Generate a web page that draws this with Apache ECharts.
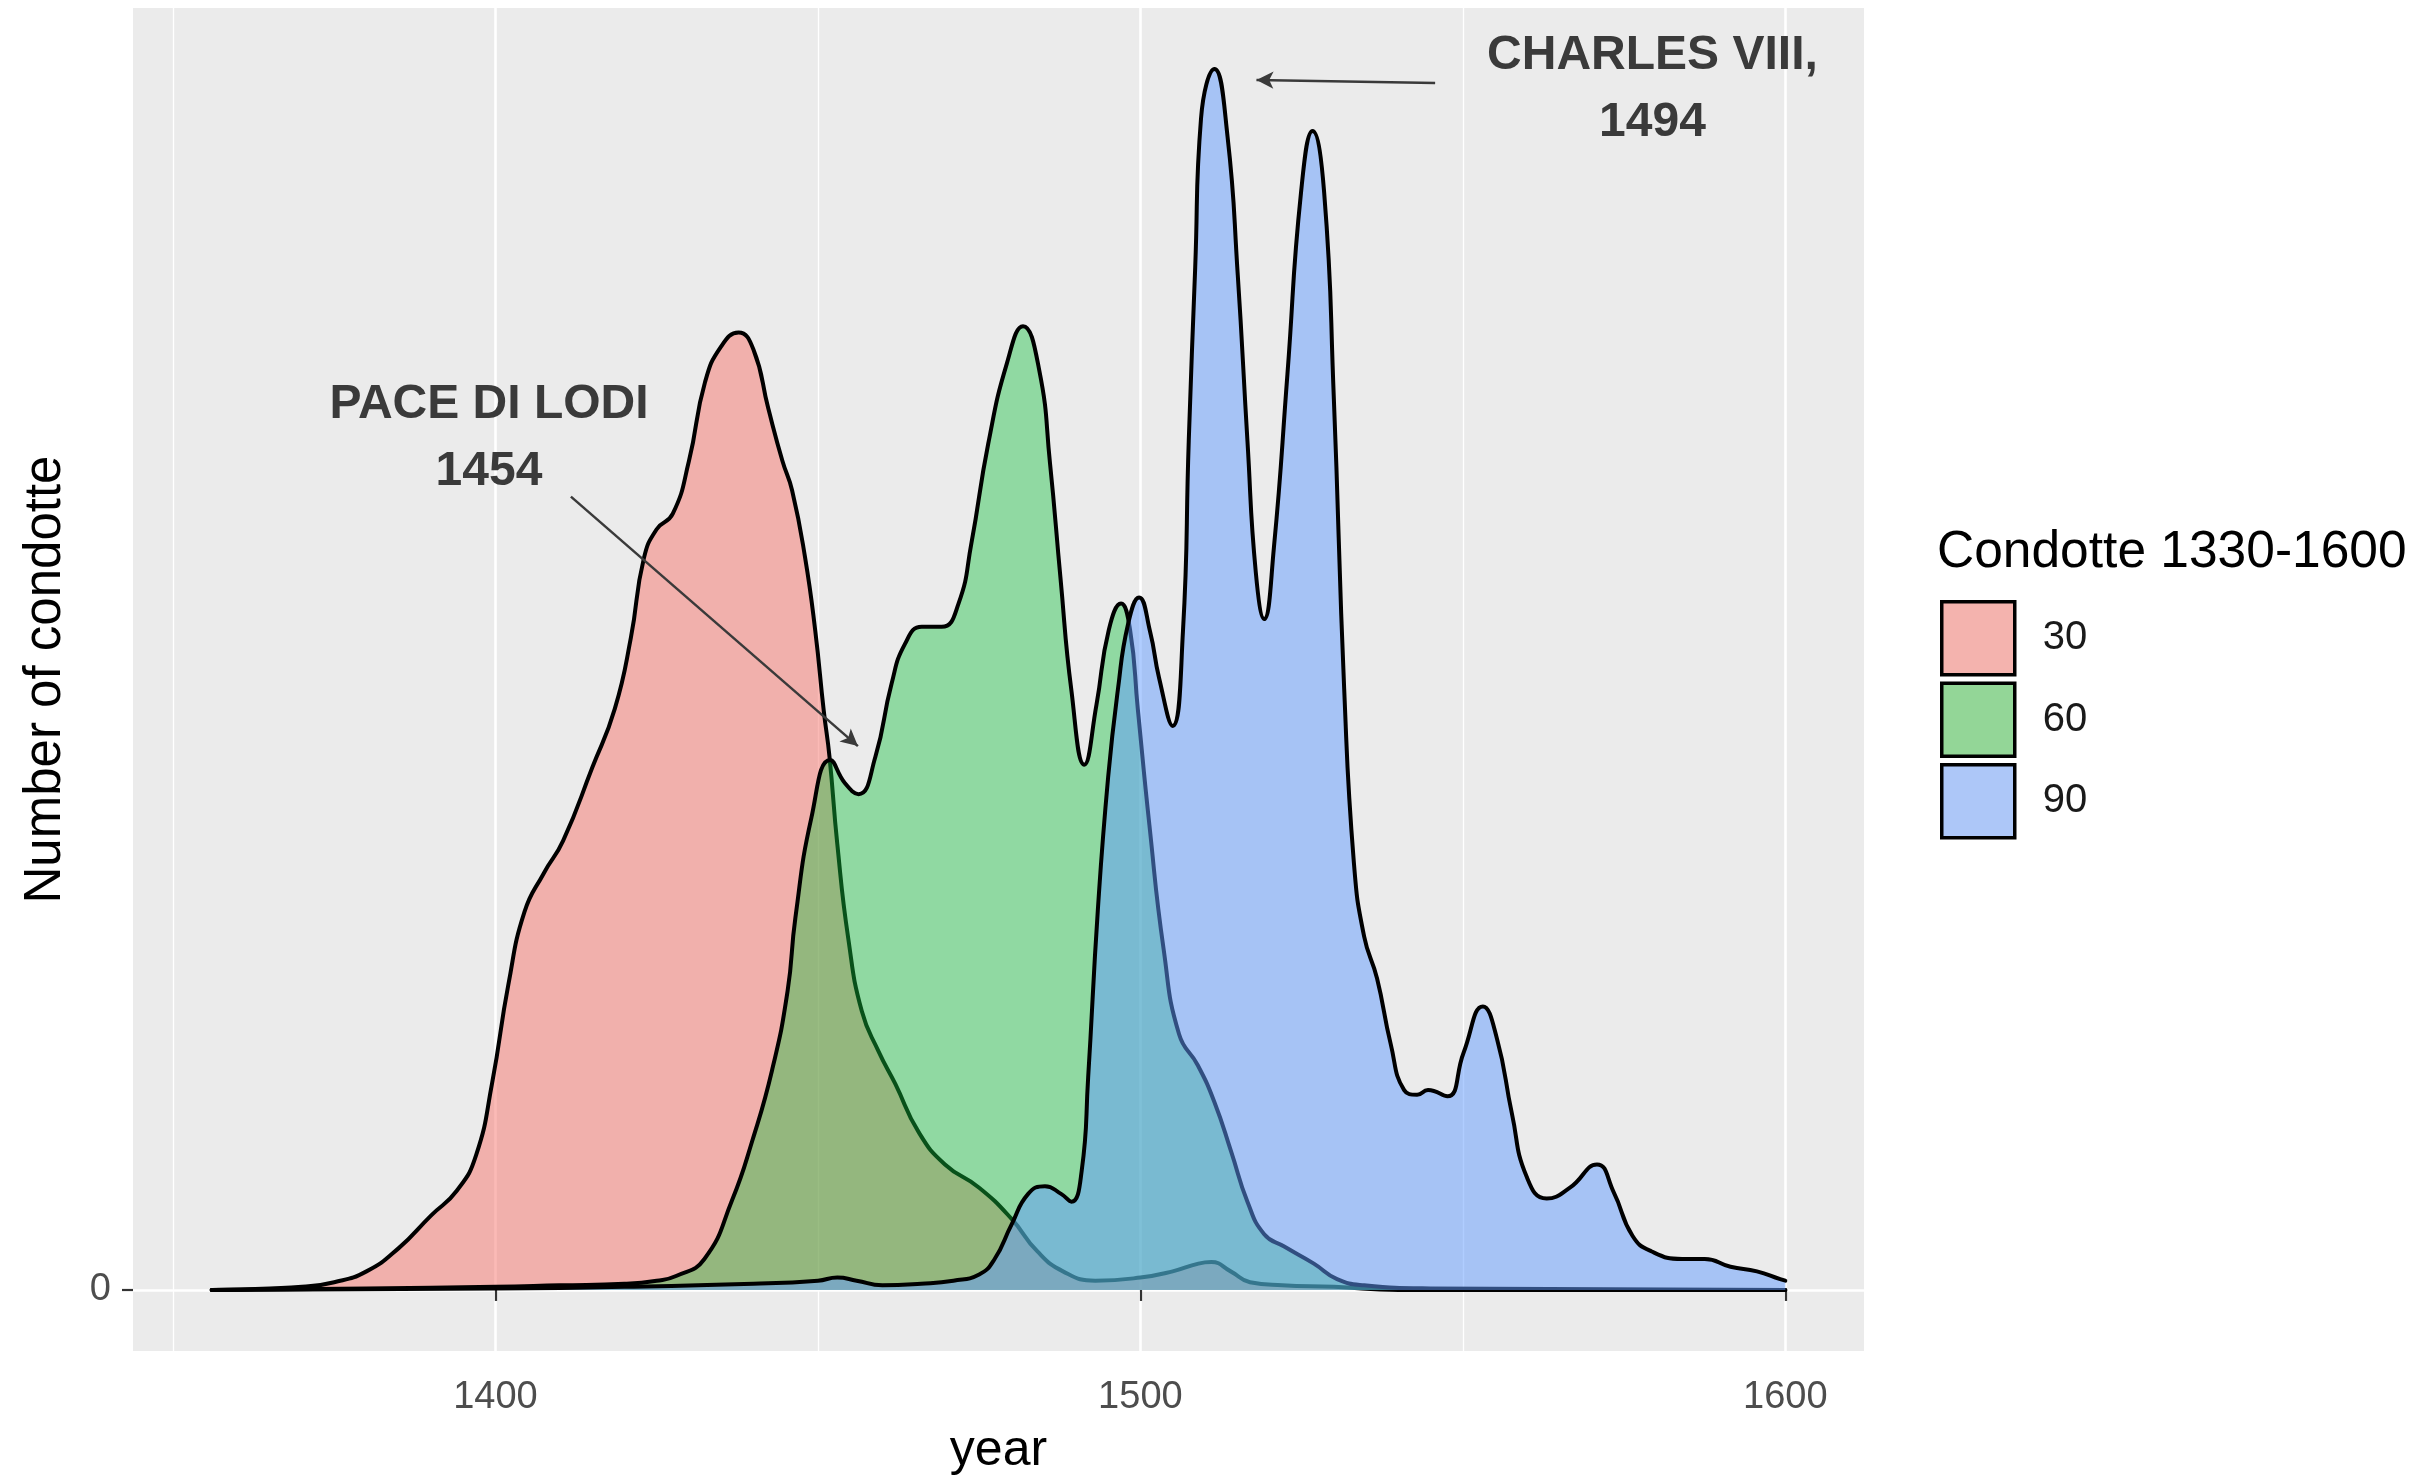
<!DOCTYPE html>
<html>
<head>
<meta charset="utf-8">
<script src="https://cdn.jsdelivr.net/npm/echarts@6/dist/echarts.min.js"></script>
<style>
html,body{margin:0;padding:0;background:#fff;}
#chart{width:2425px;height:1481px;}
</style>
</head>
<body>
<div id="chart"></div>
<script>
// ---- data ----
const seriesNames = ['30', '60', '90'];
const legendTitle = 'Condotte 1330-1600';
const xTicks = [1400, 1500, 1600];
const yTicks = [0];

const years30 = [1356,1365,1370,1375,1380,1385,1390,1394,1397,1399.5,1402,1404.5,1407.5,1410.5,1415,1418.5,1421,1423,1425,1427.5,1430,1432.5,1435,1437.7,1440,1442.3,1444.5,1446,1448,1449.6,1450.9,1451.8,1453,1454.7,1456.8,1459.4,1462,1465.6,1469.7,1475,1480,1484,1488,1493,1500,1505,1509,1511,1514,1517,1522,1530,1540,1570,1600];
const dens30 = [0,0.01,0.02,0.05,0.12,0.27,0.48,0.64,0.87,1.34,1.97,2.44,2.69,2.90,3.37,3.75,4.21,4.72,4.91,5.01,5.35,5.86,6.09,6.18,6.07,5.69,5.35,5.16,4.73,4.25,3.74,3.44,2.88,2.27,1.80,1.54,1.33,1.02,0.81,0.66,0.46,0.25,0.12,0.06,0.08,0.12,0.17,0.18,0.12,0.05,0.03,0.02,0,0,0];

const years60 = [1356,1380,1400,1410,1420,1425,1428,1432.4,1436.7,1439.8,1442.9,1445.3,1446.5,1449,1451.9,1454.2,1456.3,1458.9,1461.4,1463.5,1466.1,1469.2,1471.8,1473.8,1476.4,1479.3,1481.8,1484.3,1486,1487.6,1489.3,1491.3,1493.2,1495.1,1497,1498.4,1499.6,1501.4,1503.6,1506,1508.9,1511.5,1514.1,1516.6,1519.2,1522.3,1526.9,1530.5,1534.7,1545,1600];
const dens60 = [0,0.01,0.02,0.03,0.04,0.06,0.09,0.20,0.58,0.96,1.42,1.93,2.40,3.05,3.42,3.27,3.20,3.44,3.91,4.17,4.28,4.28,4.43,4.82,5.46,5.98,6.22,5.94,5.33,4.60,3.87,3.39,3.78,4.26,4.43,4.26,3.75,3.0,2.2,1.65,1.45,1.21,0.89,0.57,0.36,0.28,0.17,0.07,0.03,0.01,0];

const years90 = [1356,1400,1420,1440,1450,1453,1456,1460,1466,1471,1475,1477.4,1480,1482.6,1485.2,1487.7,1489.3,1490.9,1491.9,1493.4,1495,1496.5,1498.1,1499.8,1501.5,1502.9,1505,1506.6,1507.5,1508.5,1509.4,1511.5,1513.5,1515.1,1516.6,1517.9,1519.2,1520.7,1522.8,1524.9,1526.7,1528.5,1530,1531.6,1533.1,1534.7,1536.7,1538.8,1540.9,1542.9,1544.6,1547.6,1550.1,1553.1,1555.3,1557.6,1559.9,1563,1566.6,1570.8,1573.4,1576.3,1579.2,1584,1587.5,1591.5,1595.6,1599.2,1600];
const dens90 = [0,0.01,0.02,0.04,0.06,0.08,0.06,0.03,0.04,0.06,0.10,0.20,0.42,0.62,0.67,0.62,0.57,0.77,1.37,2.45,3.31,3.87,4.30,4.47,4.25,3.95,3.64,4.25,5.48,6.6,7.56,7.88,7.45,6.55,5.48,4.63,4.33,4.79,5.91,7.08,7.48,7.08,5.75,3.88,2.76,2.28,2.01,1.59,1.29,1.26,1.29,1.25,1.53,1.83,1.62,1.14,0.73,0.59,0.66,0.81,0.63,0.35,0.25,0.20,0.20,0.15,0.12,0.07,0.06];

// annotations (data coordinates)
const annoText = ['PACE DI LODI\n1454', 'CHARLES VIII,\n1494'];
const annoTextAt = [[1399.0, 5.50], [1579.4, 7.75]];
const annoArrowFrom = [[1411.7, 5.12], [1545.7, 7.79]];
const annoArrowTo = [[1456.2, 3.51], [1518.0, 7.81]];

// ---- styling ----
const fills = ['rgba(248,118,109,0.5)', 'rgba(20,192,62,0.42)', 'rgba(97,156,255,0.5)'];
const legendFills = ['#F4B3AE', '#93D697', '#ADC7F8'];
const FONT = '"Liberation Sans", Arial, Helvetica, sans-serif';

const allYears = years30.concat(years60, years90);
const xMinData = Math.min.apply(null, allYears), xMaxData = Math.max.apply(null, allYears);
const xPad = (xMaxData - xMinData) * 0.05;
const yMaxData = Math.max.apply(null, dens30.concat(dens60, dens90));
const yPad = yMaxData * 0.05;

function pairs(xs, ys) { return xs.map((x, i) => [x, ys[i]]); }
const dataSets = [pairs(years30, dens30), pairs(years60, dens60), pairs(years90, dens90)];

const chart = echarts.init(document.getElementById('chart'), null, {renderer: 'canvas'});

const series = seriesNames.map((name, i) => ({
  name: name,
  type: 'line',
  data: dataSets[i],
  showSymbol: false,
  symbol: 'none',
  smooth: 0.5,
  lineStyle: {color: '#000', width: 4, join: 'round', cap: 'round'},
  itemStyle: {color: legendFills[i]},
  areaStyle: {color: fills[i], origin: 0, opacity: 1},
  z: 2 + i,
  silent: true
}));

// annotation series (no data, only marks in data coordinates)
series.push({
  name: 'annotations',
  type: 'line',
  data: [],
  z: 10,
  silent: true,
  markLine: {
    silent: true,
    symbol: ['none', 'arrow'],
    symbolSize: [13, 17],
    label: {show: false},
    lineStyle: {color: '#3a3a3a', width: 2.5, type: 'solid'},
    data: annoArrowFrom.map((p, i) => [{coord: p}, {coord: annoArrowTo[i]}])
  },
  markPoint: {
    silent: true,
    symbol: 'circle',
    symbolSize: 1,
    itemStyle: {color: 'rgba(0,0,0,0)'},
    label: {
      show: true,
      position: 'inside',
      fontFamily: FONT,
      fontSize: 48,
      fontWeight: 'bold',
      lineHeight: 67,
      color: '#3a3a3a',
      align: 'center',
      verticalAlign: 'middle'
    },
    data: annoTextAt.map((p, i) => ({coord: p, value: annoText[i], label: {formatter: annoText[i]}}))
  }
});

const option = {
  animation: false,
  backgroundColor: '#ffffff',
  title: {
    text: legendTitle,
    left: 1937,
    top: 527,
    padding: 0,
    textStyle: {fontFamily: FONT, fontSize: 51.5, fontWeight: 'normal', color: '#000'}
  },
  legend: {
    orient: 'vertical',
    left: 1940,
    top: 600,
    padding: 0,
    itemWidth: 73,
    itemHeight: 73,
    itemGap: 5,
    selectedMode: false,
    textStyle: {fontFamily: FONT, fontSize: 40, color: '#1a1a1a', padding: [0, 0, 0, 23]},
    data: seriesNames.map((n, i) => ({
      name: n,
      icon: 'rect',
      itemStyle: {color: legendFills[i], borderColor: '#000', borderWidth: 3.5}
    }))
  },
  grid: {
    left: 133,
    right: 561,
    top: 8,
    bottom: 108,
    show: true,
    backgroundColor: '#EBEBEB',
    borderWidth: 0,
    containLabel: false
  },
  xAxis: {
    type: 'value',
    min: xMinData - xPad,
    max: xMaxData + xPad,
    splitNumber: 3,
    name: 'year',
    nameLocation: 'middle',
    nameGap: 75,
    nameTextStyle: {fontFamily: FONT, fontSize: 50, color: '#000'},
    axisLine: {show: false},
    axisTick: {show: true, length: 11, lineStyle: {color: '#333', width: 2.2}, customValues: xTicks},
    axisLabel: {fontFamily: FONT, fontSize: 38, color: '#4D4D4D', margin: 28, customValues: xTicks,
                formatter: v => String(v)},
    splitLine: {show: true, lineStyle: {color: '#ffffff', width: 2.6}},
    minorTick: {show: false, splitNumber: 2},
    minorSplitLine: {show: true, lineStyle: {color: '#ffffff', width: 1.3}}
  },
  yAxis: {
    type: 'value',
    min: -yPad,
    max: yMaxData + yPad,
    name: 'Number of condotte',
    nameLocation: 'middle',
    nameRotate: 90,
    nameGap: 62,
    nameTextStyle: {fontFamily: FONT, fontSize: 51, color: '#000'},
    axisLine: {show: false},
    axisTick: {show: true, length: 11, lineStyle: {color: '#333', width: 2.2}, customValues: yTicks},
    axisLabel: {fontFamily: FONT, fontSize: 38, color: '#4D4D4D', margin: 22, customValues: yTicks,
                formatter: v => String(v)},
    splitLine: {show: true, lineStyle: {color: '#ffffff', width: 2.6}},
    minorSplitLine: {show: false}
  },
  series: series
};

chart.setOption(option);
</script>
</body>
</html>
